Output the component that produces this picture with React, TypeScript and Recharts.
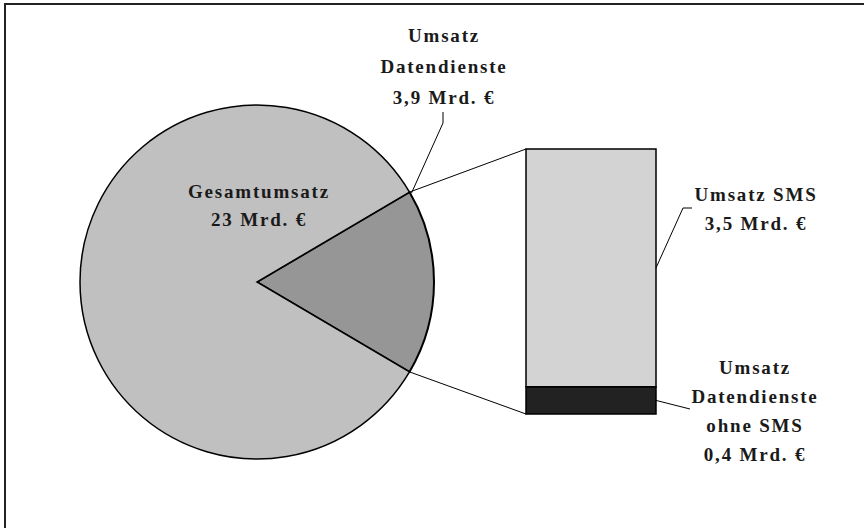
import { Bar, BarChart, Cell, Pie, PieChart, XAxis, YAxis } from "recharts";

// pie: Gesamtumsatz split into Datendienste and the rest (Mrd. €)
const PIE_CATEGORIES = ["Datendienste", "Sonstiger Umsatz"];
const PIE_VALUES = [3.9, 19.1];
const PIE_COLORS = ["#969696", "#c0c0c0"];

// bar: Datendienste split into SMS and the rest (Mrd. €)
const BAR_CATEGORIES = ["Datendienste ohne SMS", "SMS"];
const BAR_VALUES = [0.4, 3.5];
const BAR_COLORS = ["#222222", "#d3d3d3"];

const PIE_LABEL = ["Gesamtumsatz", "23 Mrd. €"];
const SLICE_LABEL = ["Umsatz", "Datendienste", "3,9 Mrd. €"];
const SMS_LABEL = ["Umsatz SMS", "3,5 Mrd. €"];
const REST_LABEL = ["Umsatz", "Datendienste", "ohne SMS", "0,4 Mrd. €"];

const W = 864;
const H = 528;
const CX = 257;
const CY = 282;
const R = 177;

const BAR_LEFT = 526;
const BAR_TOP = 149;
const BAR_W = 130;
const BAR_H = 265;
const PAD = 2;

const FONT = "'Liberation Serif', 'DejaVu Serif', serif";

const total = PIE_VALUES.reduce((a, b) => a + b, 0);
const half = (PIE_VALUES[0] / total) * 180;
const rad = (half * Math.PI) / 180;
const rimTop = { x: CX + R * Math.cos(rad), y: CY - R * Math.sin(rad) };
const rimBot = { x: CX + R * Math.cos(rad), y: CY + R * Math.sin(rad) };

const barTotal = BAR_VALUES.reduce((a, b) => a + b, 0);
const yOf = (v: number) => BAR_TOP + BAR_H - (v / barTotal) * BAR_H;
const smsMid = yOf(BAR_VALUES[0] + BAR_VALUES[1] / 2);
const restMid = yOf(BAR_VALUES[0] / 2);

const pieData = PIE_CATEGORIES.map((name, i) => ({ name, value: PIE_VALUES[i] }));
const barData = [
  BAR_CATEGORIES.reduce<Record<string, number | string>>(
    (row, c, i) => ({ ...row, [c]: BAR_VALUES[i] }),
    { name: "Datendienste" }
  ),
];

function Label({ lines, x, y, gap }: { lines: string[]; x: number; y: number; gap: number }) {
  return (
    <text
      textAnchor="middle"
      fontFamily={FONT}
      fontWeight="bold"
      fontSize={19}
      letterSpacing={1.8}
      fill="#1a1a1a"
    >
      {lines.map((l, i) => (
        <tspan key={i} x={x} y={y + i * gap}>
          {l}
        </tspan>
      ))}
    </text>
  );
}

export default function App() {
  return (
    <div style={{ position: "absolute", left: 0, top: 0, width: W, height: H, background: "#fff" }}>
      <div style={{ position: "absolute", left: 0, top: 0 }}>
        <PieChart width={W} height={H} margin={{ top: 0, right: 0, bottom: 0, left: 0 }}>
          <Pie
            data={pieData}
            dataKey="value"
            cx={CX}
            cy={CY}
            outerRadius={R}
            startAngle={half}
            endAngle={half - 360}
            stroke="#000"
            strokeWidth={1.5}
            isAnimationActive={false}
          >
            {pieData.map((d, i) => (
              <Cell key={d.name} fill={PIE_COLORS[i]} strokeWidth={i === 0 ? 2 : 1.5} />
            ))}
          </Pie>
        </PieChart>
      </div>
      <div style={{ position: "absolute", left: BAR_LEFT - PAD, top: BAR_TOP - PAD }}>
        <BarChart
          width={BAR_W + 2 * PAD}
          height={BAR_H + 2 * PAD}
          data={barData}
          margin={{ top: PAD, right: PAD, bottom: PAD, left: PAD }}
          barCategoryGap={0}
        >
          <XAxis dataKey="name" hide />
          <YAxis hide domain={[0, barTotal]} />
          {BAR_CATEGORIES.map((c, i) => (
            <Bar
              key={c}
              dataKey={c}
              stackId="a"
              fill={BAR_COLORS[i]}
              stroke="#000"
              strokeWidth={1.5}
              isAnimationActive={false}
            />
          ))}
        </BarChart>
      </div>
      <svg
        width={W}
        height={H}
        style={{ position: "absolute", left: 0, top: 0, pointerEvents: "none" }}
      >
        <rect x={5} y={4} width={W + 20} height={H + 20} fill="none" stroke="#222" strokeWidth={2} />
        <g stroke="#000" strokeWidth={1} fill="none">
          <line x1={rimTop.x} y1={rimTop.y} x2={BAR_LEFT} y2={BAR_TOP} />
          <line x1={rimBot.x} y1={rimBot.y} x2={BAR_LEFT} y2={BAR_TOP + BAR_H} />
          <polyline points={`${rimTop.x + 2},${rimTop.y + 1} 443,123 443,112`} />
          <polyline points={`${BAR_LEFT + BAR_W},${smsMid} 683,208 692,208`} />
          <polyline points={`${BAR_LEFT + BAR_W},${restMid} 690,409`} />
        </g>
        <Label lines={SLICE_LABEL} x={444} y={42} gap={31} />
        <Label lines={PIE_LABEL} x={259} y={198} gap={28} />
        <Label lines={SMS_LABEL} x={756} y={201} gap={29} />
        <Label lines={REST_LABEL} x={755} y={374} gap={29} />
      </svg>
    </div>
  );
}
